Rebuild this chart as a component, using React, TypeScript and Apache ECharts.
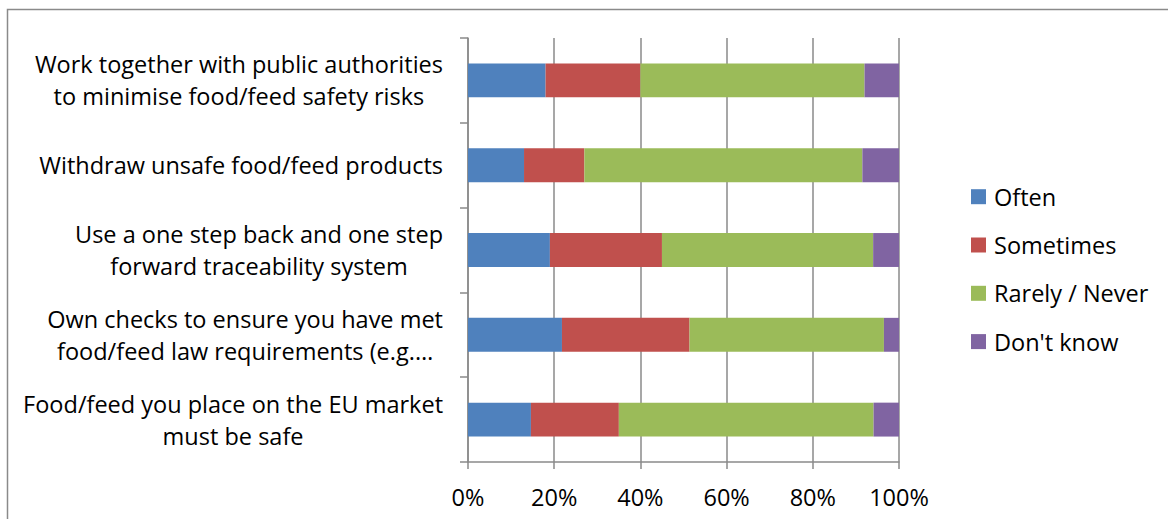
import React, { useEffect, useRef } from "react";
import * as echarts from "echarts";

// Categories listed bottom-to-top (ECharts category y axis draws first item at bottom)
const categories: string[] = [
  "Food/feed you place on the EU market\nmust be safe",
  "Own checks to ensure you have met\nfood/feed law requirements (e.g.…",
  "Use a one step back and one step\nforward traceability system",
  "Withdraw unsafe food/feed products",
  "Work together with public authorities\nto minimise food/feed safety risks",
];

const seriesNames: string[] = ["Often", "Sometimes", "Rarely / Never", "Don't know"];

const often: number[] = [14.6, 21.8, 19, 13, 18];
const sometimes: number[] = [20.4, 29.6, 26, 14, 22];
const rarelyNever: number[] = [59.1, 45.1, 49, 64.5, 52];
const dontKnow: number[] = [5.9, 3.5, 6, 8.5, 8];

const xTicks: number[] = [0, 20, 40, 60, 80, 100];

const colors: string[] = ["#4F81BD", "#C0504D", "#9BBB59", "#8064A2"];

const FONT = "'Open Sans', Lato, sans-serif";
const GRAY = "#8a8a8a";
const FS = 23.5;

export default function App() {
  const ref = useRef<HTMLDivElement>(null);

  useEffect(() => {
    if (!ref.current) return;
    const chart = echarts.init(ref.current, undefined, { renderer: "svg" });
    const values = [often, sometimes, rarelyNever, dontKnow];
    chart.setOption({
      animation: false,
      backgroundColor: "#ffffff",
      textStyle: { fontFamily: FONT, color: "#000" },
      graphic: [
        {
          type: "rect",
          shape: { x: 7.5, y: 9.5, width: 1300, height: 700 },
          style: { fill: "none", stroke: GRAY, lineWidth: 1.5 },
          silent: true,
          z: -1,
        },
      ],
      grid: { left: 468, right: 269, top: 38, bottom: 57, containLabel: false },
      legend: {
        orient: "vertical",
        left: 971,
        top: 184.7,
        padding: 0,
        icon: "rect",
        itemWidth: 15,
        itemHeight: 15,
        itemGap: 24.3,
        data: seriesNames,
        textStyle: {
          fontFamily: FONT,
          fontSize: FS,
          color: "#000",
          lineHeight: 20,
          padding: [0, 0, 0, 3],
        },
      },
      xAxis: {
        type: "value",
        min: xTicks[0],
        max: xTicks[xTicks.length - 1],
        interval: 20,
        axisLine: { show: true, lineStyle: { color: GRAY, width: 1.5 } },
        axisTick: { show: true, length: 7, lineStyle: { color: GRAY, width: 1.5 } },
        splitLine: { show: true, lineStyle: { color: GRAY, width: 1.5 } },
        axisLabel: {
          formatter: "{value}%",
          fontFamily: FONT,
          fontSize: FS,
          color: "#000",
          margin: 23,
        },
      },
      yAxis: {
        type: "category",
        data: categories,
        axisLine: { show: true, lineStyle: { color: GRAY, width: 1.5 } },
        axisTick: { show: true, length: 8, lineStyle: { color: GRAY, width: 1.5 } },
        splitLine: { show: false },
        axisLabel: {
          margin: 25,
          formatter: (v: string) =>
            v
              .split("\n")
              .map((l) => "{c|" + l + "}")
              .join("\n"),
          rich: {
            c: {
              align: "center",
              fontFamily: FONT,
              fontSize: FS,
              color: "#000",
              lineHeight: 32,
            },
          },
        },
      },
      series: seriesNames.map((name, i) => ({
        name,
        type: "bar",
        stack: "total",
        barWidth: "40%",
        itemStyle: { color: colors[i] },
        data: values[i],
      })),
    });
    return () => chart.dispose();
  }, []);

  return (
    <div
      ref={ref}
      style={{ position: "fixed", left: 0, top: 0, width: 1168, height: 519 }}
    />
  );
}
